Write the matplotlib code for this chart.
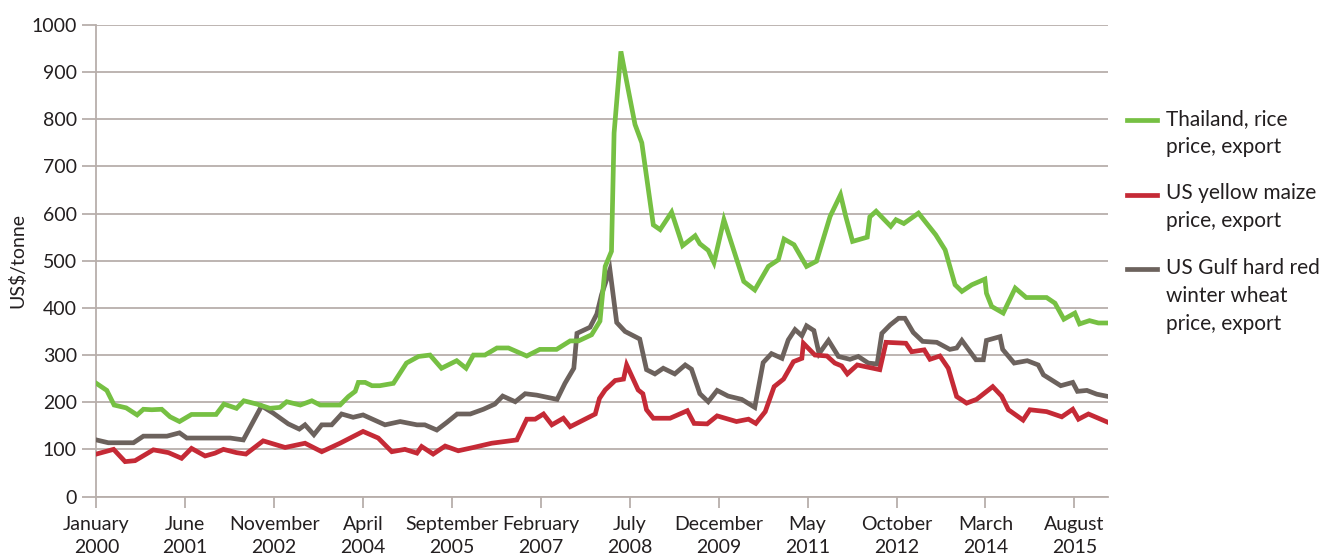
import matplotlib
matplotlib.use('Agg')
import matplotlib.pyplot as plt
from matplotlib.lines import Line2D

# months since January 2000 at which the line changes direction, and US$/tonne
rice_month = [0, 2, 3.4, 5.7, 7.8, 9, 10.6, 12.5, 14.1, 15.9, 18.2, 22.9, 24.4, 26.8, 28.2, 30.7,
              33.2, 35.1, 36.4, 39, 41.2, 42.8, 46.6, 48.2, 49.5, 50.1, 51.4, 52.7, 54.2, 56.8,
              59.3, 61.6, 63.8, 66, 68.9, 70.7, 72.1, 74.3, 76.6, 78.8, 82.3, 84.8, 88, 90.6,
              92.2, 94.7, 96.3, 97.3, 98.5, 99, 100.3, 101.7, 103, 104.3, 106.5, 107.8, 110,
              112.1, 114.5, 115.4, 117, 118.1, 120, 123.8, 125.9, 128.5, 130.4, 131.5, 133.4,
              135.8, 137.7, 140.3, 142.3, 143.3, 144.6, 147.4, 147.9, 149.1, 151.9, 152.9,
              154.4, 157.2, 160.5, 162.3, 164.2, 165.5, 167.4, 169.9, 170.2, 171.2, 173.4,
              175.7, 177.8, 181.7, 183.3, 185, 187.1, 188, 189.9, 191.6, 193.5]
rice_price = [240, 225, 194, 188, 173, 185, 184, 185, 169, 159, 174, 174, 196, 187, 203, 196,
              187, 189, 201, 194, 203, 194, 194, 212, 223, 242, 242, 235, 235, 240,
              283, 297, 300, 272, 288, 272, 300, 300, 315, 315, 298, 312, 312, 330,
              330, 343, 372, 488, 520, 771, 944, 863, 789, 750, 576, 566, 603,
              532, 553, 536, 522, 496, 587, 456, 438, 488, 502, 546, 534,
              488, 499, 594, 640, 594, 541, 550, 593, 605, 573, 587,
              579, 601, 555, 523, 449, 435, 449, 461, 431, 403, 389,
              442, 422, 422, 410, 376, 389, 366, 373, 368, 368]

maize_month = [0, 3.3, 5.5, 7.4, 10.9, 13.8, 16.3, 18.2, 20.8, 22.7, 24.3, 26.8, 28.6, 31.9,
               36.1, 39.9, 43.1, 46.6, 51, 53.9, 56.5, 59, 61.3, 62.2, 64.4, 66.7, 69.2, 72.1,
               75.6, 80.4, 82.3, 83.9, 85.5, 87.1, 89.3, 90.6, 95.4, 96.2, 97.3, 99.2, 100.8,
               101.4, 103.6, 104.5, 105.2, 106.5, 109.7, 113, 114.3, 116.8, 118.7, 122.4, 124.7,
               126.1, 127.9, 129.6, 131.4, 133.3, 134.9, 135.2, 137.4, 139.7, 141.2, 142.5,
               143.6, 145.5, 149.8, 151, 154.8, 155.9, 158.3, 159.4, 161.3, 162.9, 164.5,
               166.4, 168.3, 171.4, 173.1, 174.4, 177.2, 178.5, 181.7, 184.6, 186.7, 187.8,
               189.7, 193.5]
maize_price = [90, 100, 74, 76, 99, 93, 81, 102, 86, 92, 100, 93, 90, 118,
               104, 113, 95, 113, 138, 124, 95, 100, 92, 106, 90, 107, 97, 104,
               113, 120, 164, 164, 175, 152, 166, 148, 175, 208, 226, 246, 249,
               279, 226, 218, 184, 166, 166, 182, 155, 154, 171, 159, 164,
               155, 180, 233, 249, 286, 293, 325, 300, 298, 283, 277,
               260, 279, 269, 327, 325, 307, 311, 291, 298, 272, 212,
               198, 206, 233, 213, 184, 162, 184, 180, 169, 185, 164,
               175, 157]

wheat_month = [0, 2.3, 7.1, 9, 13.5, 15.9, 17.3, 25.6, 28.1, 31.6, 33.8, 36.7, 38.8, 39.9,
               41.6, 43.1, 45, 46.9, 49.1, 51, 55.2, 58.1, 61.3, 62.8, 65.1, 67, 69, 71.5, 74,
               76.2, 77.7, 80.1, 82, 84.2, 88.1, 89.6, 91.3, 91.9, 94.4, 95.7, 96.6, 98.2,
               99.5, 101.1, 103.9, 105.2, 106.8, 108.4, 110.6, 112.6, 113.8, 115.4, 117,
               118.7, 120.8, 123.4, 125.9, 127.5, 129.1, 131.1, 132.3, 133.6, 134.9, 135.8,
               137.2, 138.2, 140, 141.9, 144.1, 145.7, 147.6, 149.3, 150.2, 151.8, 153.4,
               154.6, 156.2, 158, 160.7, 163.2, 164.5, 165.5, 168.2, 169.6, 170.2, 172.8,
               173.3, 175.5, 178, 180.1, 181.1, 184.4, 186.7, 187.6, 189.4, 191.3, 193.5]
wheat_price = [120, 114, 114, 128, 128, 135, 124, 124, 120, 192, 177, 154, 143, 152,
               131, 152, 152, 175, 168, 173, 152, 159, 152, 152, 141, 157, 175, 175, 185,
               196, 213, 201, 218, 215, 206, 240, 272, 346, 359, 387, 428, 481,
               369, 350, 334, 269, 260, 272, 260, 279, 270, 218, 201,
               225, 213, 206, 189, 284, 303, 293, 332, 354, 341, 362,
               352, 303, 331, 297, 291, 297, 283, 281, 346, 364, 378,
               378, 348, 329, 327, 312, 315, 331, 290, 290, 331, 339,
               312, 283, 288, 279, 258, 235, 242, 223, 225, 217, 212]

tick_months = [0, 17, 34, 51, 68, 85, 102, 119, 136, 153, 170, 187]
tick_labels = ['January\n2000', 'June\n2001', 'November\n2002', 'April\n2004',
               'September\n2005', 'February\n2007', 'July\n2008', 'December\n2009',
               'May\n2011', 'October\n2012', 'March\n2014', 'August\n2015']

series_names = ['Thailand, rice\nprice, export', 'US yellow maize\nprice, export',
                'US Gulf hard red\nwinter wheat\nprice, export']
colors = ['#76c043', '#c52a36', '#6c625d']
grid_color = '#b8afab'
text_color = '#231f20'

plt.rcParams['font.family'] = ['Lato', 'DejaVu Sans']

fig = plt.figure(figsize=(13.27, 5.59), dpi=100)
ax = fig.add_axes([0.0726, 0.1118, 0.7626, 0.8435])

ax.plot(wheat_month, wheat_price, color=colors[2], lw=3.4, solid_joinstyle='miter', zorder=3)
ax.plot(maize_month, maize_price, color=colors[1], lw=3.4, solid_joinstyle='miter', zorder=4)
ax.plot(rice_month, rice_price, color=colors[0], lw=3.4, solid_joinstyle='miter', zorder=5)

ax.set_xlim(0, 193.5)
ax.set_ylim(0, 1000)
ax.set_yticks(range(0, 1001, 100))
ax.set_xticks(tick_months)
ax.set_xticklabels(tick_labels, linespacing=1.45)
ax.yaxis.grid(True, color=grid_color, lw=1.3)
ax.set_axisbelow(True)

for side in ['top', 'right']:
    ax.spines[side].set_visible(False)
for side in ['left', 'bottom']:
    ax.spines[side].set_color(grid_color)
    ax.spines[side].set_linewidth(1.3)
ax.tick_params(axis='y', length=10, width=1.3, color=grid_color, pad=4,
               labelsize=14, labelcolor=text_color)
ax.tick_params(axis='x', length=8, width=1.3, color=grid_color, pad=6,
               labelsize=14, labelcolor=text_color)
ax.set_ylabel('US$/tonne', fontsize=14, color=text_color, labelpad=4)

# legend drawn at the right, handle beside the first line of each label
legend_y = [0.785, 0.652, 0.519]
for name, c, y in zip(series_names, colors, legend_y):
    fig.add_artist(Line2D([0.849, 0.872], [y, y], color=c, lw=3.4,
                          transform=fig.transFigure))
    fig.text(0.879, y + 0.02, name, fontsize=15, color=text_color,
             va='top', ha='left', linespacing=1.5)

fig.savefig('out.png', dpi=100)
